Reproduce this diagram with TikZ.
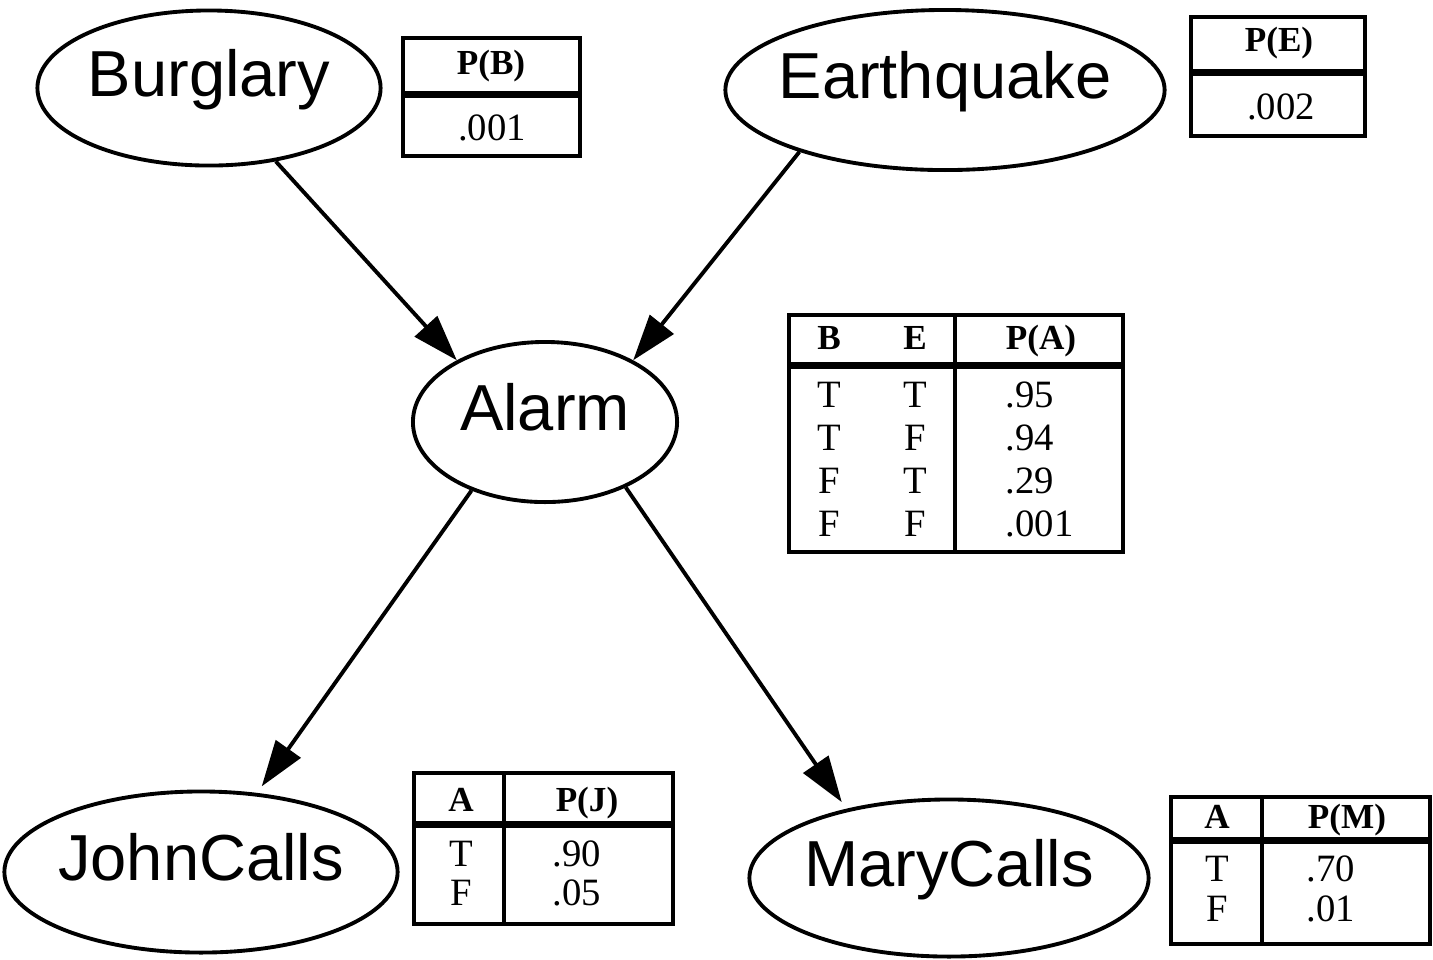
\documentclass[tikz,border=0pt]{standalone}
\usepackage{fontspec}
\setmainfont{Liberation Serif}
\setsansfont{Liberation Sans}
\usetikzlibrary{arrows.meta,shapes.geometric}

\begin{document}
\begin{tikzpicture}[
    x=0.01cm,y=-0.01cm,
    >={Triangle[length=4.6mm,width=3mm]},
    var/.style={ellipse,draw,line width=1.1pt,inner ysep=0pt,inner xsep=-0.6cm,
                font=\sffamily\fontsize{18.5}{21}\selectfont,
                text height=0.46cm,text depth=0.30cm},
    edge/.style={->,line width=1.1pt},
    tab/.style={line width=1.4pt},
    hsep/.style={line width=2pt},
    hd/.style={font=\bfseries\fontsize{10}{11}\selectfont,inner sep=0pt,
               text height=6.6pt,text depth=0pt},
    val/.style={font=\fontsize{11}{12}\selectfont,inner sep=0pt,
                text height=7.3pt,text depth=0pt},
]
\useasboundingbox (0,0) rectangle (1433,959);

% =====================================================================
%  variables
% =====================================================================
\node[var,minimum width=3.43cm,minimum height=1.55cm] (burglary)   at (209,88)  {Burglary};
\node[var,minimum width=4.39cm,minimum height=1.60cm] (earthquake) at (945,90)  {Earthquake};
\node[var,minimum width=2.64cm,minimum height=1.60cm] (alarm)      at (545,422) {Alarm};
\node[var,minimum width=3.93cm,minimum height=1.61cm] (john)       at (201,872) {JohnCalls};
\node[var,minimum width=3.99cm,minimum height=1.57cm] (mary)       at (949,878) {MaryCalls};

\draw[edge] (burglary) -- (alarm.145);
\draw[edge] (earthquake.-157) -- (alarm.35);
\draw[edge,shorten >=0.8mm] (alarm.-137) -- (john);
\draw[edge,shorten >=0.8mm] (alarm.-39) -- (mary.146);

% =====================================================================
%  CPT for Burglary and Earthquake
% =====================================================================
\draw[tab] (403,38) rectangle (580,156);
\draw[hsep] (403,94.5) -- (580,94.5);
\node[hd]  (pB)  at (491,63)  {P(B)};
\node[val] (pB1) at (492,128) {.001};

\draw[tab] (1191,17) rectangle (1365,136);
\draw[hsep] (1191,72.5) -- (1365,72.5);
\node[hd]  (pE)  at (1279,40)  {P(E)};
\node[val] (pE1) at (1281,107) {.002};

% =====================================================================
%  CPT for Alarm
% =====================================================================
\draw[tab] (789,315) rectangle (1123,552);
\draw[hsep] (789,365) -- (1123,365);
\draw[tab] (955,315) -- (955,552);
\node[hd] (hAB) at (829,338)  {B};
\node[hd] (hAE) at (915,338)  {E};
\node[hd] (hAP) at (1041,338) {P(A)};
\foreach \b/\e/\p [count=\i from 0] in {T/T/.95,T/F/.94,F/T/.29,F/F/.001} {
   \node[val] (aB\i) at (829,{395+43*\i}) {\b};
   \node[val] (aE\i) at (915,{395+43*\i}) {\e};
   \node[val,anchor=west] (aP\i) at (1005,{395+43*\i}) {\p};
}

% =====================================================================
%  CPTs for JohnCalls and MaryCalls
% =====================================================================
\draw[tab] (414,773) rectangle (673,924);
\draw[hsep] (414,824.5) -- (673,824.5);
\draw[tab] (504,773) -- (504,924);
\node[hd] (hJA) at (461,800) {A};
\node[hd] (hJP) at (587,800) {P(J)};
\foreach \a/\p [count=\i from 0] in {T/.90,F/.05} {
   \node[val] (jA\i) at (461,{854+39*\i}) {\a};
   \node[val,anchor=west] (jP\i) at (552,{854+39*\i}) {\p};
}

\draw[tab] (1171,797) rectangle (1430,944);
\draw[hsep] (1171,840) -- (1430,840);
\draw[tab] (1262,797) -- (1262,944);
\node[hd] (hMA) at (1217,817) {A};
\node[hd] (hMP) at (1347,817) {P(M)};
\foreach \a/\p [count=\i from 0] in {T/.70,F/.01} {
   \node[val] (mA\i) at (1217,{869+40*\i}) {\a};
   \node[val,anchor=west] (mP\i) at (1306,{869+40*\i}) {\p};
}

\end{tikzpicture}
\end{document}
